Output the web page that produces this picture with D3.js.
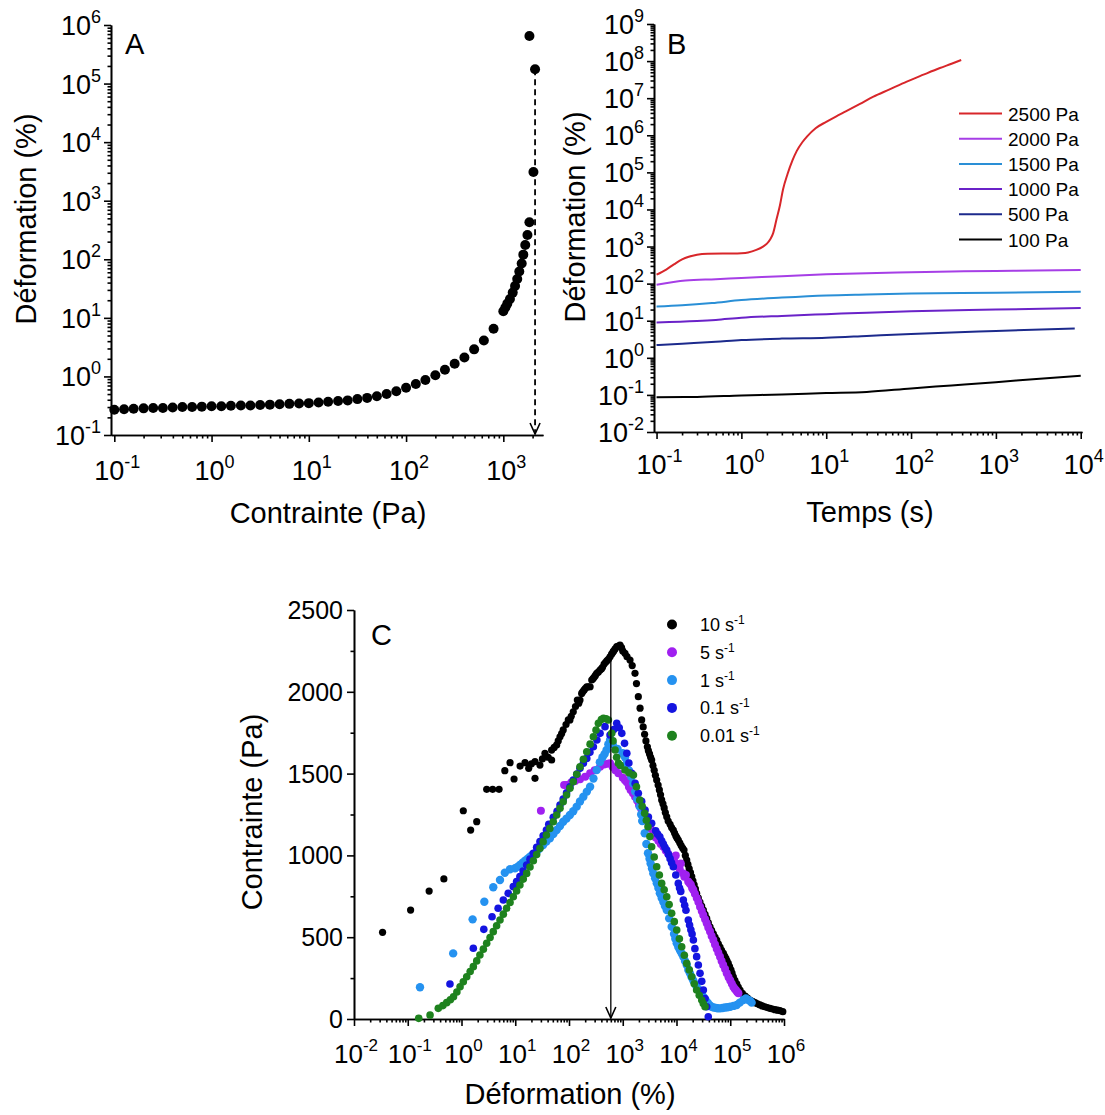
<!DOCTYPE html>
<html><head><meta charset="utf-8">
<script src="https://cdn.jsdelivr.net/npm/d3@7"></script>
<style>
body{margin:0;background:#fff}
svg text{font-family:Arial,"Liberation Sans",sans-serif;fill:#000}
</style>
</head><body>
<svg id="c" width="1105" height="1115"></svg>
<script>
// ---------------- DATA ----------------
// Panel A : stress sweep
const stressA = [0.1,0.126,0.158,0.2,0.251,0.316,0.398,0.501,0.631,0.794,1,1.26,1.58,2,2.51,3.16,3.98,5.01,6.31,7.94,10,12.6,15.8,20,25.1,31.6,39.8,50.1,63.1,79.4,100,126,158,200,251,316,398,501,631,794,1000,1050,1100,1170,1250,1320,1390,1460,1545,1605,1680,1770,1855,2040,2120,1855];
const strainA = [0.27,0.275,0.28,0.285,0.29,0.29,0.295,0.30,0.30,0.305,0.31,0.31,0.315,0.32,0.32,0.325,0.33,0.335,0.34,0.345,0.35,0.36,0.37,0.38,0.39,0.41,0.43,0.46,0.50,0.56,0.64,0.74,0.87,1.05,1.3,1.65,2.1,2.9,4.1,6.5,13,15,17.5,21,27,35,46,62,85,120,175,260,430,3100,175000,650000];
const arrowA = [2120, 175000];

// Panel B : creep curves
const seriesB = ["2500 Pa","2000 Pa","1500 Pa","1000 Pa","500 Pa","100 Pa"];
const colorsB = ["#d8262a","#a63ee6","#2a8fd6","#6a22c8","#1c2a8c","#000000"];
const t2500 = [0.1,0.13,0.16,0.2,0.24,0.3,0.4,0.6,0.8,1.0,1.2,1.5,1.8,2.0,2.2,2.37,2.6,2.85,3.1,3.5,4.0,4.5,5.2,6.0,7.5,10,13,17,25,36,55,89,140,219,300,390];
const e2500 = [175,240,330,450,530,600,640,650,650,660,690,810,1000,1200,1600,2300,5500,13000,35000,90000,210000,380000,640000,950000,1550000,2300000,3200000,4400000,7000000,11000000,17000000,28000000,43000000,65000000,85000000,107000000];
const t2000 = [0.1,0.22,0.5,1,3,10,30,100,300,1000,3000,10000];
const e2000 = [93,122,132,142,158,178,192,203,212,220,226,232];
const t1500 = [0.1,0.2,0.45,1,3,10,30,100,1000,10000];
const e1500 = [24,26,30,36,42,48,51,54,57,60];
const t1000 = [0.1,0.3,0.5,1,3,10,30,100,1000,10000];
const e1000 = [9,9.8,10.5,12,13.5,15,16.5,18,20,22];
const t500 = [0.1,0.2,0.5,1,3,10,30,100,1000,8500];
const e500 = [2.2,2.4,2.7,3.0,3.3,3.5,3.9,4.4,5.3,6.2];
const t100 = [0.1,0.3,1,3,10,30,100,300,1000,3000,10000];
const e100 = [0.087,0.088,0.097,0.103,0.112,0.12,0.15,0.18,0.22,0.27,0.33];

// Panel C : stress vs strain at several shear rates
const ratesC = ["10","5","1","0.1","0.01"];
const colorsC = ["#000000","#a020f0","#2592f0","#1414e0","#1e821e"];
const c10 = [[0.034,530],[0.113,666],[0.25,782],[0.47,856],[1.08,1273],[1.48,1155],[1.92,1206],[2.94,1404],[3.8,1404],[5.0,1404],[6.4,1518],[8.0,1567],[9.5,1467],[12.3,1546],[15.2,1567],[17.8,1532],[20,1560],[23.3,1471],[23.3,1573],[28.8,1552],[32,1590],[35.7,1624],[41,1600],[47.5,1583],[47.5,1644],[53,1660],[59,1675],[63,1700],[68,1725],[73,1745],[78,1767],[88,1800],[97,1828],[104,1828],[110,1850],[120,1878],[132,1910],[143,1950],[152,1930],[160,1950],[172,1990],[180,2000],[190,2010],[200,2020],[214,2031],[230,2030],[247,2031],[265,2072],[280,2080],[295,2090],[310,2100],[328,2113],[350,2120],[378,2133],[400,2140],[420,2150],[450,2170],[480,2180],[510,2190],[545,2200],[580,2214],[620,2230],[650,2240],[680,2250],[720,2262],[773,2276],[830,2280],[890,2286],[950,2270],[1000,2250],[1100,2235],[1200,2215],[1365,2194],[1500,2160],[1690,2113],[1800,2050],[1950,1970],[2100,1900],[2250,1828],[2400,1785],[2550,1740],[2700,1700],[2870,1664],[3000,1640],[3150,1620],[3300,1600],[3450,1583],[3650,1550],[3850,1520],[4050,1490],[4280,1461],[4550,1430],[4800,1400],[5050,1370],[5300,1339],[5600,1315],[5900,1290],[6200,1262],[6580,1236],[7000,1210],[7600,1190],[8100,1170],[8720,1155],[9200,1137],[9700,1120],[10200,1107],[10800,1094],[11500,1077],[12200,1060],[13000,1045],[13800,1033],[14600,1000],[15500,972],[16300,945],[17200,920],[18200,895],[19200,870],[20200,845],[21300,820],[22500,795],[23700,768],[25400,740],[27300,715],[29400,690],[31600,666],[34000,640],[36500,615],[39000,590],[42000,564],[45000,542],[48500,520],[52000,500],[56000,483],[60000,460],[64500,440],[69000,420],[74600,401],[78500,385],[83000,370],[87000,355],[92000,340],[97000,320],[103000,300],[108000,280],[114000,258],[122000,237],[132000,215],[141000,195],[152000,177],[168000,157],[190000,140],[210000,127],[233000,116],[260000,108],[290000,100],[320000,93],[357000,86],[395000,80],[440000,75],[490000,70],[549000,65],[610000,61],[680000,57],[760000,54],[842000,51],[950000,45]];
const c5 = [[30,1273],[81,1430],[91,1430],[110,1445],[130,1455],[160,1465],[200,1481],[247,1502],[300,1520],[378,1542],[450,1555],[520,1560],[580,1563],[650,1540],[730,1520],[830,1502],[1000,1475],[1100,1460],[1190,1447],[1300,1420],[1400,1400],[1550,1380],[1690,1359],[1850,1335],[2000,1310],[2200,1285],[2420,1257],[2700,1225],[3000,1195],[3300,1165],[3700,1135],[4100,1110],[4600,1090],[5100,1070],[5700,1053],[6300,1030],[7000,1010],[7800,990],[8720,972],[9200,960],[9700,1000],[10800,930],[11500,915],[12000,950],[13400,890],[14000,870],[15000,880],[16500,840],[17500,830],[18500,820],[19500,800],[20600,788],[22000,765],[23800,740],[25500,715],[27400,686],[29500,660],[31500,635],[34000,610],[36500,585],[39000,560],[42000,535],[45000,508],[48500,483],[52000,455],[56000,430],[60000,405],[64500,381],[69000,355],[74000,330],[80000,305],[86000,279],[93000,255],[100000,235],[107000,215],[114000,197],[121000,185],[128000,175],[135000,165],[142000,157]];
const c1 = [[0.169,194],[0.70,401],[1.61,609],[2.66,717],[3.9,805],[5.2,850],[6.4,894],[8.0,915],[9.9,921],[11,930],[12.2,941],[13.7,955],[15.2,967],[17,980],[18.8,992],[21,1005],[25,1023],[28,1040],[33,1063],[38,1085],[44,1104],[51,1130],[59,1155],[68,1180],[78,1206],[90,1225],[104,1247],[120,1270],[139,1298],[160,1330],[185,1359],[215,1390],[247,1420],[285,1470],[328,1522],[375,1570],[420,1600],[460,1620],[500,1644],[540,1680],[580,1705],[650,1680],[800,1650],[1000,1624],[1100,1600],[1190,1563],[1300,1520],[1440,1481],[1570,1440],[1700,1390],[1850,1345],[2070,1298],[2200,1250],[2300,1210],[2560,1135],[2750,1070],[2950,1013],[3150,980],[3300,950],[3500,920],[3700,890],[4000,860],[4300,830],[4600,800],[4900,768],[5300,740],[5700,715],[6100,690],[6580,666],[7300,615],[8130,564],[9000,520],[9500,490],[10100,463],[10800,440],[11600,420],[12500,400],[13400,381],[14400,355],[15500,330],[16600,300],[17800,279],[19100,255],[20500,235],[22000,215],[23700,197],[25500,180],[27500,165],[29500,150],[31600,136],[34500,118],[38000,100],[41000,85],[45000,75],[49000,70],[54000,68],[58000,66],[64500,65],[72000,67],[80000,70],[89000,72],[100000,75],[115000,80],[132000,86],[150000,100],[175000,116],[195000,125],[218000,116],[235000,110],[250000,100]];
const c01 = [[0.61,214],[1.66,432],[2.6,548],[3.7,625],[4.8,677],[6.0,727],[7.4,768],[9.2,809],[10.6,840],[12.2,870],[14,905],[16.3,941],[18.8,977],[21.7,1013],[25,1050],[28.8,1084],[33,1120],[38,1155],[42,1190],[51,1233],[60,1270],[68,1308],[78,1345],[90,1383],[104,1420],[120,1461],[140,1497],[160,1532],[185,1563],[214,1593],[245,1630],[284,1664],[330,1705],[378,1746],[468,1787],[580,1736],[680,1770],[773,1807],[860,1780],[960,1746],[1080,1685],[1190,1624],[1300,1565],[1470,1502],[1700,1440],[1950,1380],[2250,1330],[2600,1277],[3000,1235],[3450,1196],[4100,1150],[4450,1130],[4900,1114],[5300,1090],[5700,1070],[6100,1050],[6580,1033],[7100,1005],[7600,980],[8100,955],[8720,931],[9700,880],[10800,829],[11400,800],[12000,780],[13400,727],[14200,695],[15000,665],[16600,605],[17500,575],[18500,545],[19500,520],[20600,483],[22000,430],[23700,381],[25500,330],[27400,279],[29500,230],[31600,177],[34000,125],[36500,75],[39000,14]];
const c001 = [[0.16,4],[0.26,24],[0.37,65],[0.45,82],[0.53,100],[0.62,118],[0.71,136],[0.82,165],[0.94,197],[1.08,228],[1.25,258],[1.45,290],[1.66,320],[1.92,355],[2.2,391],[2.55,427],[2.94,463],[3.4,498],[3.9,534],[4.5,570],[5.2,605],[6.0,641],[6.9,677],[8.0,712],[9.2,747],[10.6,783],[12.2,819],[14.1,855],[16.3,890],[18.8,929],[21.7,967],[25,1005],[28.8,1043],[33,1084],[38,1125],[44,1165],[51,1206],[59,1247],[68,1288],[78,1328],[90,1369],[104,1410],[120,1450],[139,1496],[160,1542],[185,1588],[214,1634],[247,1680],[284,1725],[318,1766],[352,1807],[400,1830],[437,1838],[490,1835],[541,1828],[624,1746],[660,1700],[720,1644],[770,1600],[830,1563],[900,1550],[1100,1522],[1300,1505],[1580,1491],[1800,1420],[2070,1339],[2300,1300],[2560,1257],[2750,1215],[2950,1175],[3200,1115],[3450,1053],[3850,990],[4280,931],[4800,880],[5300,829],[5900,790],[6580,747],[7300,700],[8130,646],[9100,595],[10100,544],[11300,490],[12500,442],[14000,390],[15500,340],[17300,300],[19200,258],[21400,215],[23700,177],[26500,145],[29500,116],[31500,95],[34000,75]];
const arrowC = [600, 2260];

const ticksC_y = [0,500,1000,1500,2000,2500];

// ---------------- DRAWING ----------------
const svg = d3.select("#c");
const FONT_TICK = 27, FONT_SUP = 18, FONT_TITLE = 29;

function minorLog(lo, hi){
  const out=[];
  for(let e=Math.floor(Math.log10(lo))-1;e<=Math.ceil(Math.log10(hi));e++){
    for(let k=2;k<=9;k++){const v=k*Math.pow(10,e); if(v>=lo&&v<=hi) out.push(v);}
  }
  return out;
}
function majorLog(lo,hi){
  const out=[];
  for(let e=Math.ceil(Math.log10(lo)-1e-9);e<=Math.floor(Math.log10(hi)+1e-9);e++) out.push(Math.pow(10,e));
  return out;
}
function styleAxis(g){
  g.selectAll("path,line").attr("stroke","#000").attr("stroke-width",1.6);
  g.selectAll("text").remove();
}
function powLabel(g, x, y, exp, anchor, fs, fsup){
  const t = g.append("text").attr("x",x).attr("y",y).attr("text-anchor",anchor).attr("font-size",fs||FONT_TICK);
  t.append("tspan").text("10");
  t.append("tspan").attr("dy",-12).attr("font-size",fsup||FONT_SUP).text(exp);
}
function logAxes(x, y, x0, y0, xlabY, ylabX){
  const xd = x.domain(), yd = y.domain();
  const gx = svg.append("g").attr("transform",`translate(0,${y0})`);
  gx.call(d3.axisBottom(x).tickValues(minorLog(xd[0],xd[1])).tickSize(3.5).tickSizeOuter(0).tickFormat(""));
  styleAxis(gx);
  const gx2 = svg.append("g").attr("transform",`translate(0,${y0})`);
  gx2.call(d3.axisBottom(x).tickValues(majorLog(xd[0],xd[1])).tickSize(7).tickSizeOuter(0).tickFormat(""));
  styleAxis(gx2);
  majorLog(xd[0],xd[1]).forEach(v=>powLabel(svg, x(v)+3, xlabY, String(Math.round(Math.log10(v))), "middle"));
  const gy = svg.append("g").attr("transform",`translate(${x0},0)`);
  gy.call(d3.axisLeft(y).tickValues(minorLog(yd[0],yd[1])).tickSize(3.5).tickSizeOuter(0).tickFormat(""));
  styleAxis(gy);
  const gy2 = svg.append("g").attr("transform",`translate(${x0},0)`);
  gy2.call(d3.axisLeft(y).tickValues(majorLog(yd[0],yd[1])).tickSize(7).tickSizeOuter(0).tickFormat(""));
  styleAxis(gy2);
  majorLog(yd[0],yd[1]).forEach(v=>powLabel(svg, ylabX, y(v)+10, String(Math.round(Math.log10(v))), "end"));
}
function title(x,y,txt,rot){
  const t = svg.append("text").attr("font-size",FONT_TITLE).attr("text-anchor","middle").text(txt);
  if(rot) t.attr("transform",`translate(${x},${y}) rotate(-90)`); else t.attr("x",x).attr("y",y);
}

// open arrowhead
const defs = svg.append("defs");
defs.append("marker").attr("id","arrA").attr("viewBox","-13 -7 14 14").attr("markerWidth",14).attr("markerHeight",14)
  .attr("refX",0).attr("refY",0).attr("orient","auto").attr("markerUnits","userSpaceOnUse")
  .append("path").attr("d","M-11,-5 L0,0 L-11,5").attr("fill","none").attr("stroke","#000").attr("stroke-width",1.6);

// ===== Panel A =====
const xA = d3.scaleLog().domain([Math.pow(10,-1.034), Math.pow(10,3.408)]).range([111,543]);
const yA = d3.scaleLog().domain([0.1,1e6]).range([435,25]);
logAxes(xA, yA, 111, 435, 480, 101);
svg.append("line").attr("x1",xA(arrowA[0])).attr("x2",xA(arrowA[0]))
  .attr("y1",yA(arrowA[1])).attr("y2",yA(0.1)-1)
  .attr("stroke","#000").attr("stroke-width",1.8).attr("stroke-dasharray","6,4")
  .attr("marker-end","url(#arrA)");
svg.append("g").selectAll("circle").data(stressA.map((s,i)=>[s,strainA[i]])).join("circle")
  .attr("cx",d=>xA(d[0])).attr("cy",d=>yA(d[1])).attr("r",5).attr("fill","#000");
svg.append("text").attr("x",125).attr("y",54).attr("font-size",29).text("A");
title(328,523,"Contrainte (Pa)",false);
title(36,219,"Déformation (%)",true);

// ===== Panel B =====
const xB = d3.scaleLog().domain([Math.pow(10,-1.03), Math.pow(10,4.015)]).range([654,1082]);
const yB = d3.scaleLog().domain([0.01,1e9]).range([432,24]);
logAxes(xB, yB, 654, 432, 474, 644);
const dataB = [[t2500,e2500],[t2000,e2000],[t1500,e1500],[t1000,e1000],[t500,e500],[t100,e100]];
const lineB = d3.line().x(d=>xB(d[0])).y(d=>yB(d[1])).curve(d3.curveMonotoneX);
dataB.forEach((s,i)=>{
  svg.append("path").datum(s[0].map((t,j)=>[t,s[1][j]])).attr("d",lineB)
    .attr("fill","none").attr("stroke",colorsB[i]).attr("stroke-width",2);
});
seriesB.forEach((name,i)=>{
  const yy = 113.5 + i*25.2;
  svg.append("line").attr("x1",959).attr("x2",1002).attr("y1",yy).attr("y2",yy).attr("stroke",colorsB[i]).attr("stroke-width",2);
  svg.append("text").attr("x",1008).attr("y",yy+7).attr("font-size",19).text(name);
});
svg.append("text").attr("x",667).attr("y",54).attr("font-size",29).text("B");
title(870,522,"Temps (s)",false);
title(585,217,"Déformation (%)",true);

// ===== Panel C =====
const xC = d3.scaleLog().domain([0.01,1e6]).range([354,784]);
const yC = d3.scaleLinear().domain([0,2500]).range([1019,610]);
{
  const xd = xC.domain();
  const gx = svg.append("g").attr("transform","translate(0,1019)");
  gx.call(d3.axisBottom(xC).tickValues(minorLog(xd[0],xd[1])).tickSize(3.5).tickSizeOuter(0).tickFormat(""));
  styleAxis(gx);
  const gx2 = svg.append("g").attr("transform","translate(0,1019)");
  gx2.call(d3.axisBottom(xC).tickValues(majorLog(xd[0],xd[1])).tickSize(7).tickSizeOuter(0).tickFormat(""));
  styleAxis(gx2);
  majorLog(xd[0],xd[1]).forEach(v=>powLabel(svg, xC(v)+2, 1063, String(Math.round(Math.log10(v))), "middle", 26, 17));
  const minorY = d3.range(250,2500,500);
  const gy = svg.append("g").attr("transform","translate(354,0)");
  gy.call(d3.axisLeft(yC).tickValues(minorY).tickSize(3.5).tickSizeOuter(0).tickFormat(""));
  styleAxis(gy);
  const gy2 = svg.append("g").attr("transform","translate(354,0)");
  gy2.call(d3.axisLeft(yC).tickValues(ticksC_y).tickSize(7).tickSizeOuter(0).tickFormat(""));
  styleAxis(gy2);
  ticksC_y.forEach(v=>svg.append("text").attr("x",343).attr("y",yC(v)+9).attr("text-anchor","end").attr("font-size",25).text(v));
}
const dataC = [c10,c5,c1,c01,c001];
const radC = [3.6,4,4.2,3.8,3.8];
dataC.forEach((s,i)=>{
  svg.append("g").selectAll("circle").data(s).join("circle")
    .attr("cx",d=>xC(d[0])).attr("cy",d=>yC(d[1])).attr("r",radC[i]).attr("fill",colorsC[i]);
});
svg.append("line").attr("x1",xC(arrowC[0])).attr("x2",xC(arrowC[0]))
  .attr("y1",yC(arrowC[1])).attr("y2",yC(0)-1)
  .attr("stroke","#000").attr("stroke-width",1.3).attr("marker-end","url(#arrA)");
ratesC.forEach((r,i)=>{
  const yy = 624.5 + i*27.8;
  svg.append("circle").attr("cx",672).attr("cy",yy).attr("r",5).attr("fill",colorsC[i]);
  const t = svg.append("text").attr("x",700).attr("y",yy+6.5).attr("font-size",18);
  t.append("tspan").text(r+" s");
  t.append("tspan").attr("dy",-7).attr("font-size",12).text("-1");
});
svg.append("text").attr("x",371).attr("y",645).attr("font-size",29).text("C");
title(570,1104,"Déformation (%)",false);
title(262,812,"Contrainte (Pa)",true);
</script>
</body></html>
